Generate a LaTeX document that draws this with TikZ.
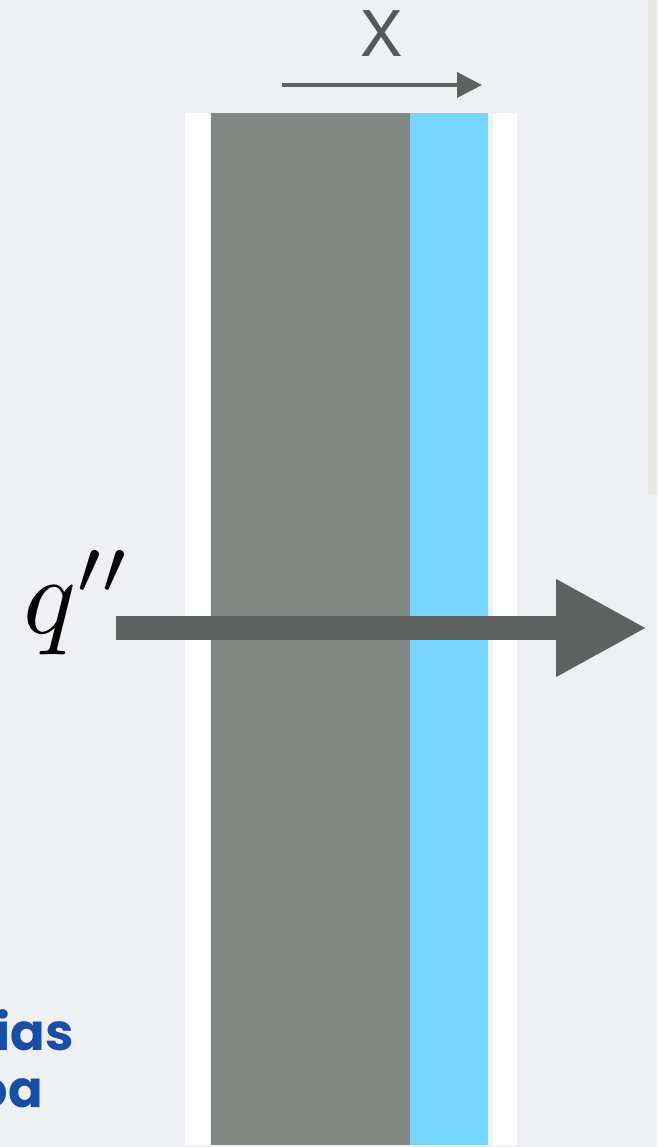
\documentclass[tikz,border=0pt]{standalone}
\usepackage{fontspec}
\newfontfamily\popfont{Poppins}
\newfontfamily\xfont{TeX Gyre Heros}
\usetikzlibrary{arrows.meta}
\definecolor{bg}{RGB}{238,240,244}
\definecolor{panel}{RGB}{233,232,230}
\definecolor{slab}{RGB}{130,135,132}
\definecolor{film}{RGB}{119,212,254}
\definecolor{arrowgray}{RGB}{93,98,96}
\definecolor{xgray}{RGB}{85,90,88}
\definecolor{logoblue}{RGB}{24,78,166}
\tikzset{
  flux/.style={arrowgray, line width=24pt, -{Triangle[length=91pt,width=91pt]}},
  axis/.style={arrowgray, line width=4pt, -{Triangle[length=25pt,width=25pt]}},
  logo/.style={logoblue, inner sep=0pt, font=\popfont\bfseries\fontsize{51}{56}\selectfont}
}
\begin{document}
\begin{tikzpicture}[x=1pt,y=-1pt]
\useasboundingbox (0,0) rectangle (657,1147);
\clip (0,0) rectangle (657,1147);
\fill[bg] (0,0) rectangle (657,1147);
\fill[panel] (648,0) rectangle (657,495);
% layers
\fill[white] (185,113) rectangle (210,1145);
\fill[slab] (211,113) rectangle (410,1145);
\fill[film] (410,113) rectangle (488,1145);
\fill[white] (493,113) rectangle (517,1145);
% x axis
\node[xgray, inner sep=0pt, anchor=base, font=\xfont\fontsize{63}{63}\selectfont] (xl) at (382,57) {X};
\coordinate (xa) at (282,85);
\coordinate (xb) at (482,85);
\draw[axis] (xa) -- (xb);
% heat flux
\node[inner sep=0pt, anchor=base west, scale=11] (q) at (21,633) {$q''$};
\coordinate (fa) at (116,628);
\coordinate (fb) at (647,628);
\draw[flux] (fa) -- (fb);
% logo fragments (cut off at the left edge, as in the reference)
\node[logo, anchor=base east] (l1) at (74,1050) {ias};
\node[logo, anchor=base east] (l2) at (43,1107) {oa};
\end{tikzpicture}
\end{document}
